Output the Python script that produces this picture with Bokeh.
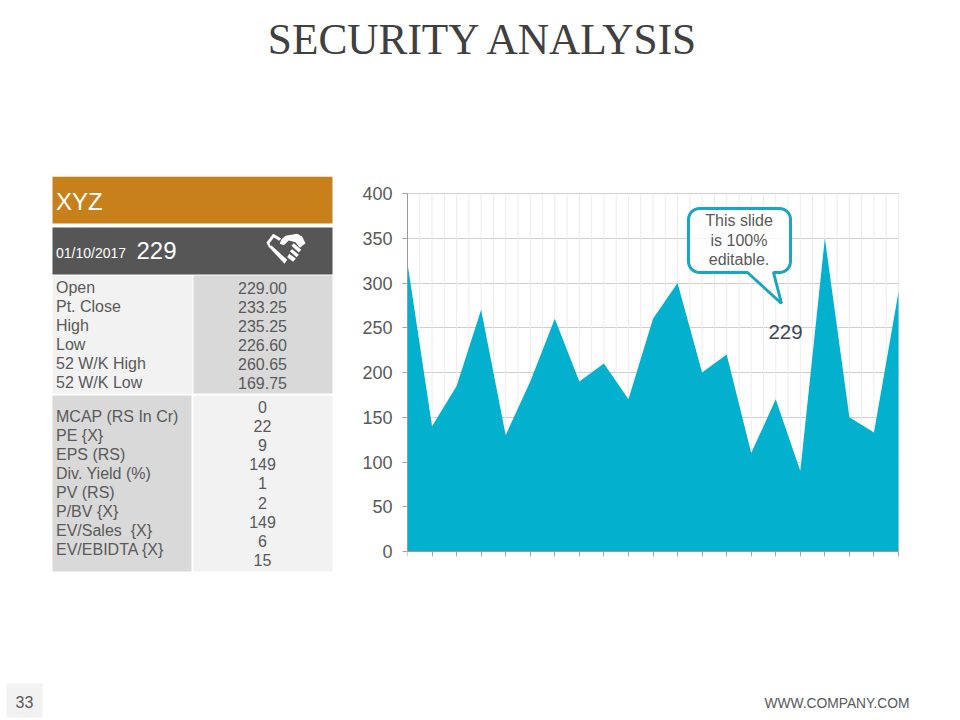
import math
from bokeh.core.properties import value
from bokeh.embed import file_html
from bokeh.layouts import column, row
from bokeh.resources import INLINE
from bokeh.models import FixedTicker, Label, LinearAxis, PolyAnnotation, Range1d
from bokeh.plotting import figure

# ---- data
title_text = "SECURITY ANALYSIS"
company = "XYZ"
date_text = "01/10/2017"
price_text = "229"
price_rows = ["Open", "Pt. Close", "High", "Low", "52 W/K High", "52 W/K Low"]
price_vals = ["229.00", "233.25", "235.25", "226.60", "260.65", "169.75"]
ratio_rows = ["MCAP (RS In Cr)", "PE {X}", "EPS (RS)", "Div. Yield (%)", "PV (RS)",
              "P/BV {X}", "EV/Sales\u00a0 {X}", "EV/EBIDTA {X}"]
ratio_vals = ["0", "22", "9", "149", "1", "2", "149", "6", "15"]
series_x = list(range(21))
series_y = [322, 140, 185, 270, 130, 190, 260, 190, 210, 170, 260, 300, 200, 220, 110, 170, 90, 350, 150, 133, 290]
y_ticks = [0, 50, 100, 150, 200, 250, 300, 350, 400]
callout_lines = ["This slide", "is 100%", "editable."]
callout_value = "229"
page_number = "33"
footer = "WWW.COMPANY.COM"

GREY = "#595959"
FONT = "Liberation Sans"

W, H = 960, 720
SPLIT_X, TOP_Y, BOT_Y = 345, 176, 576


def panel(x0, x1, y0, y1):
    """A bare figure whose data coordinates are the page's pixels."""
    f = figure(width=x1 - x0, height=y1 - y0, output_backend="svg", toolbar_location=None,
               x_range=Range1d(x0, x1), y_range=Range1d(y1, y0),
               x_axis_type=None, y_axis_type=None, min_border=0)
    f.outline_line_color = None
    f.grid.visible = False
    return f


def box(f, l, r, t, b, color):
    f.quad(left=[l], right=[r], top=[t], bottom=[b], fill_color=color, line_color=None)


def text(f, x, y, s, size, color=GREY, align="left", font=FONT):
    f.text(x=[x], y=[y], text=[s], text_font=value(font), text_font_size=value(f"{size}px"),
           text_color=color, text_align=align, text_baseline="middle")


# ---- title
top = panel(0, W, 0, TOP_Y)
text(top, 483.5, 38.5, title_text, 43.3, "#404040", "center", "Liberation Serif")

# ---- table
tbl = panel(0, SPLIT_X, TOP_Y, BOT_Y)
box(tbl, 52, 332, 176, 223, "#c8811a")
box(tbl, 52, 332, 227, 274, "#565656")
box(tbl, 52, 192, 275, 393, "#f2f2f2")
box(tbl, 193, 332, 275, 393, "#d9d9d9")
box(tbl, 52, 191, 395, 571, "#d9d9d9")
box(tbl, 193, 332, 395, 571, "#f2f2f2")
text(tbl, 55.5, 201, company, 24, "#ffffff")
text(tbl, 55.5, 252, date_text, 14, "#ffffff")
text(tbl, 136, 250, price_text, 24, "#ffffff")

for i, (a, b) in enumerate(zip(price_rows, price_vals)):
    y = 287 + 19 * i
    text(tbl, 55.5, y, a, 16)
    text(tbl, 262, y, b, 16, align="center")
for i, a in enumerate(ratio_rows):
    text(tbl, 55.5, 416 + 19 * i, a, 16)
for i, b in enumerate(ratio_vals):
    text(tbl, 262, 406.5 + 19.1 * i, b, 16, align="center")


# handshake icon (positions from a 3x crop of the icon)
def icon(pts):
    tbl.patch([260 + a / 3 for a, _ in pts], [226 + b / 3 for _, b in pts], fill_color="#ffffff", line_color=None)


icon([(62, 40), (75, 28), (110, 22), (125, 30), (135, 50), (118, 64), (105, 47), (85, 42), (70, 56), (58, 52)])
icon([(18, 48), (38, 22), (62, 36), (56, 43), (40, 33), (27, 50), (32, 62), (25, 62)])
icon([(26, 62), (33, 57), (80, 100), (72, 112)])
icon([(100, 50), (122, 70), (115, 78), (93, 58)])
icon([(95, 68), (115, 85), (108, 92), (88, 74)])
icon([(86, 82), (106, 96), (98, 106), (80, 92)])

# ---- chart: the frame spans the table's row (row alignment shares frames), axis and grid are bounded to the data
F_L, F_R, F_T, F_B = 407, 898, 193, 551
x_end = 20 * (F_R + 1 - F_L) / (F_R - F_L)
px_per_unit = (F_B - F_T) / 400
y_start = -(BOT_Y - F_B) / px_per_unit
y_end = (F_B - TOP_Y) / px_per_unit
p = figure(width=W - SPLIT_X, height=BOT_Y - TOP_Y, output_backend="svg", toolbar_location=None,
           x_range=Range1d(0, x_end), y_range=Range1d(y_start, y_end),
           min_border_left=F_L - SPLIT_X, min_border_right=W - F_R - 1,
           min_border_top=0, min_border_bottom=0)
p.outline_line_color = None

p.yaxis.ticker = FixedTicker(ticks=y_ticks)
p.yaxis.bounds = (0, 400)
p.yaxis.axis_line_color = "#9a9a9a"
p.yaxis.major_tick_line_color = "#a6a6a6"
p.yaxis.major_tick_in = 0
p.yaxis.major_tick_out = 5
p.yaxis.minor_tick_line_color = None
p.yaxis.major_label_text_font = FONT
p.yaxis.major_label_text_font_size = "18px"
p.yaxis.major_label_text_color = GREY
p.yaxis.major_label_standoff = 10

p.xaxis.visible = False
x_axis = LinearAxis(fixed_location=0, ticker=FixedTicker(ticks=series_x), bounds=(0, 20),
                    axis_line_color="#9a9a9a", major_tick_line_color="#a6a6a6",
                    major_tick_in=0, major_tick_out=5, minor_tick_line_color=None,
                    major_label_overrides={i: "" for i in series_x})
p.add_layout(x_axis, "below")

p.ygrid.grid_line_color = "#cfcfcf"
p.ygrid.ticker = FixedTicker(ticks=y_ticks)
p.ygrid.bounds = (0, 20)
p.xgrid.visible = False

half_steps = [i / 2 for i in range(2 * len(series_x) - 1)]
p.segment(x0=half_steps, x1=half_steps, y0=[0] * len(half_steps), y1=[max(y_ticks)] * len(half_steps),
          line_color="#ececec", line_width=1)
p.varea(x=series_x, y1=[0] * len(series_x), y2=series_y, fill_color="#03b1cf")


def rounded_bubble(l, r, t, b, rad, tail):
    pts = []
    for cx, cy, start in [(r - rad, t + rad, -90), (r - rad, b - rad, 0), (l + rad, b - rad, 90), (l + rad, t + rad, 180)]:
        if start == 90:
            pts.extend(tail)
        for k in range(9):
            ang = math.radians(start + k * 90 / 8)
            pts.append((cx + rad * math.cos(ang), cy + rad * math.sin(ang)))
    return pts


bubble = rounded_bubble(688, 790, 208, 272, 11, [(773, 272), (781, 303), (747, 272)])
p.add_layout(PolyAnnotation(xs=[a - SPLIT_X for a, _ in bubble], ys=[b - TOP_Y for _, b in bubble],
                            xs_units="canvas", ys_units="canvas",
                            fill_color="#ffffff", fill_alpha=0.8,
                            line_color="#1ca6bd", line_alpha=1, line_width=3))


def chart_label(x, y, s, size, color):
    p.add_layout(Label(x=x - SPLIT_X, y=y - TOP_Y, x_units="canvas", y_units="canvas", text=s,
                       text_font=FONT, text_font_size=f"{size}px", text_color=color,
                       text_align="center", text_baseline="middle"))


for i, s in enumerate(callout_lines):
    chart_label(738.5, 220 + 19.5 * i, s, 16, GREY)
chart_label(785, 331, callout_value, 20.5, "#44445a")

# ---- footer
bot = panel(0, W, BOT_Y, H)
box(bot, 6, 42, 683, 717, "#f2f2f2")
text(bot, 24, 701, page_number, 16, align="center")
text(bot, 909, 703, footer, 13.8, align="right")

page = column(top, row(tbl, p, spacing=0), bot, spacing=0)
open("out.html", "w").write(file_html(page, INLINE))
